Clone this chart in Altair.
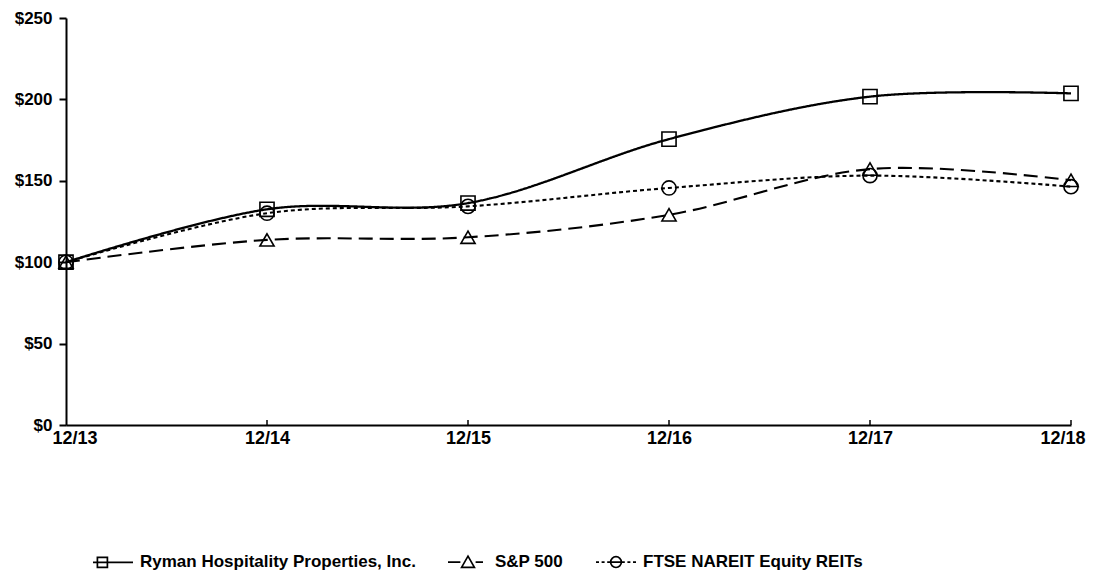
import altair as alt
import pandas as pd

dates = ["12/13", "12/14", "12/15", "12/16", "12/17", "12/18"]
series_names = ["Ryman Hospitality Properties, Inc.", "S&P 500", "FTSE NAREIT Equity REITs"]
ryman = [100, 132.5, 136.3, 175.6, 201.7, 203.7]
sp500 = [100, 113.7, 115.3, 129.1, 157.2, 150.3]
reits = [100, 130.1, 134.3, 145.6, 153.2, 146.4]
y_ticks = [0, 50, 100, 150, 200, 250]

rows = []
for name, vals in zip(series_names, [ryman, sp500, reits]):
    for d, v in zip(dates, vals):
        rows.append({"date": d, "series": name, "value": v})
df = pd.DataFrame(rows)
tick_df = pd.DataFrame({"date": dates[1:]})

FONT = "Liberation Sans"
W, H = 1005, 407

x_enc = alt.X("date:N", sort=dates,
              scale=alt.Scale(type="point", padding=0, domain=dates),
              axis=alt.Axis(title=None, labelAngle=0, labelFont=FONT, labelFontSize=18,
                            labelFontWeight="bold", labelColor="black", labelPadding=4,
                            labelFlush=True, labelFlushOffset=14,
                            ticks=False, domainColor="black", domainWidth=2, grid=False))
y_enc = alt.Y("value:Q", scale=alt.Scale(domain=[0, 250], nice=False),
              axis=alt.Axis(title=None, values=y_ticks, labelExpr="'$' + datum.value",
                            labelFont=FONT, labelFontSize=17, labelFontWeight="bold",
                            labelColor="black", labelPadding=7, tickSize=7, tickWidth=2,
                            tickColor="black", domainColor="black", domainWidth=2, grid=False))

base = alt.Chart(df)

shapes = ["square", "triangle-up", "circle"]
dashes = [[1, 0], [14, 7], [4, 3]]
widths = [2.3, 2.1, 2.1]

line_layers = []
point_layers = []
for i, (name, shp, dsh, wd) in enumerate(zip(series_names, shapes, dashes, widths)):
    sub = base.transform_filter(alt.datum.series == name)
    if i == 0:
        enc = dict(x=x_enc, y=y_enc)
    else:
        enc = dict(x=alt.X("date:N", sort=dates), y="value:Q")
    line_layers.append(
        sub.mark_line(interpolate="cardinal", color="black", strokeDash=dsh, strokeWidth=wd)
        .encode(**enc)
    )
    point_layers.append(
        sub.mark_point(shape=shp, filled=False, color="black", strokeWidth=1.6, size=200, opacity=1)
        .encode(x=alt.X("date:N", sort=dates), y="value:Q")
    )

ticks = alt.Chart(tick_df).mark_rule(color="black", strokeWidth=1.5).encode(
    x=alt.X("date:N", sort=dates), y=alt.value(H), y2=alt.value(H - 5)
)

legend_paths = [
    "M-1,0H1M-0.78,-0.25H-0.28V0.25H-0.78Z",
    "M-1,0H-0.38M-0.32,0.26L0,-0.3L0.32,0.26ZM0.38,0H0.75",
    "M-1,0H-0.85M-0.72,0H-0.57M-0.44,0H-0.3"
    "M0.27,0A0.27,0.27 0 1,1 -0.27,0A0.27,0.27 0 1,1 0.27,0Z"
    "M-0.27,0H0.27M0.3,0H0.44M0.57,0H0.72M0.85,0H1",
]

legend_layer = base.transform_filter("false").mark_point(
    filled=False, opacity=1, color="black").encode(
    x=alt.X("date:N", sort=dates), y="value:Q",
    shape=alt.Shape("series:N", sort=series_names,
                    scale=alt.Scale(domain=series_names, range=legend_paths),
                    legend=alt.Legend(title=None, orient="none", legendX=26, legendY=523,
                                      direction="horizontal", columns=3,
                                      labelFont=FONT, labelFontSize=17, labelFontWeight="bold",
                                      labelColor="black", labelOffset=6, columnPadding=28,
                                      symbolSize=1600, symbolStrokeWidth=1.7,
                                      symbolStrokeColor="black", symbolFillColor="transparent",
                                      symbolOpacity=1, labelLimit=400)),
)

chart = alt.layer(*line_layers, *point_layers, ticks, legend_layer).properties(
    width=W, height=H,
    autosize=alt.AutoSizeParams(type="none"),
    padding={"left": 58, "top": 10, "right": 16, "bottom": 150},
).configure(background="white").configure_view(stroke=None)

chart.save("out.html", embed_options={"renderer": "svg", "actions": False})
